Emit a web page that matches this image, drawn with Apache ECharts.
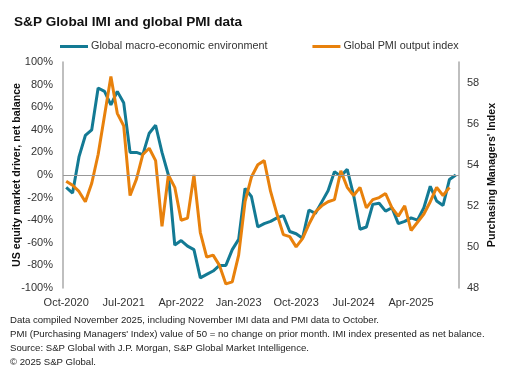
<!DOCTYPE html>
<html>
<head>
<meta charset="utf-8">
<script src="https://cdn.jsdelivr.net/npm/echarts@6/dist/echarts.min.js"></script>
<style>html,body{margin:0;padding:0;background:#fff;}#c{width:513px;height:389px;}</style>
</head>
<body>
<div id="c"></div>
<script>
var months = [
 'Oct-2020','Nov-2020','Dec-2020','Jan-2021','Feb-2021','Mar-2021','Apr-2021','May-2021','Jun-2021',
 'Jul-2021','Aug-2021','Sep-2021','Oct-2021','Nov-2021','Dec-2021','Jan-2022','Feb-2022','Mar-2022',
 'Apr-2022','May-2022','Jun-2022','Jul-2022','Aug-2022','Sep-2022','Oct-2022','Nov-2022','Dec-2022',
 'Jan-2023','Feb-2023','Mar-2023','Apr-2023','May-2023','Jun-2023','Jul-2023','Aug-2023','Sep-2023',
 'Oct-2023','Nov-2023','Dec-2023','Jan-2024','Feb-2024','Mar-2024','Apr-2024','May-2024','Jun-2024',
 'Jul-2024','Aug-2024','Sep-2024','Oct-2024','Nov-2024','Dec-2024','Jan-2025','Feb-2025','Mar-2025',
 'Apr-2025','May-2025','Jun-2025','Jul-2025','Aug-2025','Sep-2025','Oct-2025','Nov-2025'
];
// Global macro-economic environment (IMI, net balance %)
var imiValues = [
 -11, -16, 16, 35, 40, 77, 74, 62, 74,
 64, 20, 20, 18, 37, 44, 20, 0, -62,
 -58, -63, -66, -91, -88, -85, -80, -80, -66,
 -57, -12, -19, -46, -43, -41, -38, -36, -50,
 -52, -56, -31, -34, -24, -14, 3, -1, 5,
 -18, -48, -46, -26, -25, -32, -29, -43, -41,
 -38, -40, -29, -10, -23, -27, -4, 0
];
// Global PMI output index
var pmiValues = [
 53.2, 53.0, 52.7, 52.2, 53.1, 54.5, 56.4, 58.3, 56.5,
 55.9, 52.5, 53.3, 54.5, 54.8, 54.2, 51.0, 53.5, 52.9,
 51.3, 51.4, 53.5, 50.7, 49.5, 49.6, 49.1, 48.2, 48.3,
 49.6, 52.2, 53.4, 54.0, 54.2, 52.7, 51.6, 50.6, 50.5,
 50.0, 50.4, 51.1, 51.7, 52.0, 52.2, 52.3, 53.7, 52.9,
 52.5, 52.9, 51.9, 52.3, 52.4, 52.6, 51.9, 51.5, 52.0,
 50.8, 51.2, 51.6, 52.2, 52.9, 52.5, 52.9, null
];
var seriesNames = ['Global macro-economic environment', 'Global PMI output index'];
var leftTicks = {min: -100, max: 100, step: 20};
var rightTicks = {min: 48, max: 59, step: 2};
var footnotes = [
 'Data compiled November 2025, including November IMI data and PMI data to October.',
 "PMI (Purchasing Managers' Index) value of 50 = no change on prior month. IMI index presented as net balance.",
 'Source: S&P Global with J.P. Morgan, S&P Global Market Intelligence.',
 '\u00a9 2025 S&P Global.'
];

var BLUE = '#137a94', ORANGE = '#e8810c';
var FONT = 'Liberation Sans, Arial, sans-serif';
var chart = echarts.init(document.getElementById('c'), null, {renderer: 'canvas'});
var graphics = footnotes.map(function (t, i) {
  return {type: 'text', left: 10, top: 315.5 + i * 13.8,
    style: {text: t, font: '9.6px ' + FONT, fill: '#222'}};
});
chart.setOption({
  animation: false,
  backgroundColor: '#fff',
  title: {text: 'S&P Global IMI and global PMI data', left: 9, top: 10,
    textStyle: {fontFamily: FONT, fontSize: 13.6, fontWeight: 'bold', color: '#111'}},
  legend: {top: 36, left: 55, itemWidth: 28, itemHeight: 3, itemGap: 45, icon: 'rect',
    textStyle: {fontFamily: FONT, fontSize: 10.8, color: '#333', padding: [0, 0, 0, -2]},
    data: seriesNames},
  grid: {left: 63, right: 54, top: 62, bottom: 101, containLabel: false, outerBoundsMode: 'none'},
  xAxis: {type: 'category', data: months, boundaryGap: true,
    axisLine: {show: false, onZero: false}, axisTick: {show: false},
    axisLabel: {interval: 8, fontFamily: FONT, fontSize: 11, color: '#333', margin: 9}},
  yAxis: [
    {type: 'value', min: leftTicks.min, max: leftTicks.max, interval: leftTicks.step,
     name: 'US equity market driver, net balance', nameLocation: 'middle', nameGap: 40,
     nameMoveOverlap: false,
     nameTextStyle: {fontFamily: FONT, fontSize: 10.7, fontWeight: 'bold', color: '#111'},
     axisLine: {show: true, lineStyle: {color: '#aaa', width: 1.5}}, axisTick: {show: false},
     splitLine: {show: false},
     axisLabel: {formatter: '{value}%', fontFamily: FONT, fontSize: 11, color: '#333', margin: 10}},
    {type: 'value', min: rightTicks.min, max: rightTicks.max, interval: rightTicks.step,
     name: "Purchasing Managers' Index", nameLocation: 'middle', nameGap: 28,
     nameMoveOverlap: false,
     nameTextStyle: {fontFamily: FONT, fontSize: 10.7, fontWeight: 'bold', color: '#111'},
     axisLine: {show: true, lineStyle: {color: '#aaa', width: 1.5}}, axisTick: {show: false},
     splitLine: {show: false},
     axisLabel: {showMaxLabel: false, fontFamily: FONT, fontSize: 11, color: '#333', margin: 8}}
  ],
  series: [
    {name: seriesNames[0], type: 'line', yAxisIndex: 0, data: imiValues, symbol: 'none',
     lineStyle: {color: BLUE, width: 3}, itemStyle: {color: BLUE}, z: 3,
     markLine: {silent: true, symbol: 'none', label: {show: false},
       lineStyle: {color: '#999', width: 1, type: 'solid'}, data: [{yAxis: 0}]}},
    {name: seriesNames[1], type: 'line', yAxisIndex: 1, data: pmiValues, symbol: 'none',
     lineStyle: {color: ORANGE, width: 3}, itemStyle: {color: ORANGE}, z: 4}
  ],
  graphic: graphics
});
</script>
</body>
</html>
